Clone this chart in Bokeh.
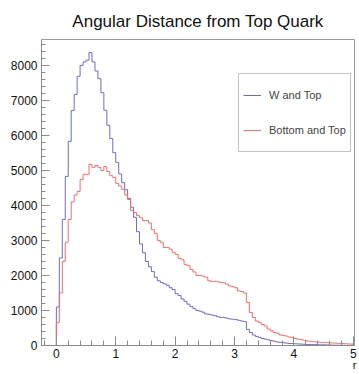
from bokeh.plotting import figure
from bokeh.models import SingleIntervalTicker, Legend, LegendItem, Range1d
from bokeh.embed import file_html
from bokeh.resources import INLINE

TITLE = "Angular Distance from Top Quark"
X_TITLE = "r"
BIN_START = 0.0
BIN_WIDTH = 0.05

w_and_top = [
    1100, 2500, 3600, 4830, 5830, 6710, 7170, 7690, 8000, 8100,
    8150, 8370, 8100, 7840, 7620, 7220, 6720, 6290, 5910, 5510,
    5230, 4900, 4650, 4450, 4200, 3950, 3660, 3250, 2900, 2650,
    2400, 2250, 2110, 1950, 1850, 1800, 1760, 1720, 1650, 1600,
    1480, 1430, 1330, 1260, 1180, 1110, 1050, 1000, 980, 950,
    900, 890, 870, 850, 820, 800, 800, 780, 760, 750,
    740, 720, 700, 680, 460, 370, 300, 260, 230, 200,
    180, 160, 140, 120, 100, 90, 80, 70, 60, 55,
    50, 45, 40, 35, 30, 30, 25, 25, 20, 20,
    18, 15, 12, 10, 8, 6, 5, 4, 3, 2,
]

bottom_and_top = [
    650, 1500, 2400, 2950, 3600, 4100, 4300, 4400, 4740, 4890,
    4890, 5170, 5090, 5140, 5090, 5000, 5110, 4970, 4850, 4800,
    4630, 4560, 4460, 4300, 4170, 3860, 3800, 3710, 3650, 3570,
    3570, 3500, 3310, 3200, 3000, 2950, 2800, 2800, 2750, 2660,
    2600, 2490, 2450, 2310, 2280, 2170, 2100, 2000, 2000, 1980,
    1950, 1850, 1830, 1830, 1820, 1800, 1790, 1750, 1700, 1680,
    1650, 1560, 1540, 1500, 1230, 940, 800, 700, 660, 600,
    560, 470, 420, 370, 350, 300, 290, 270, 240, 230,
    200, 180, 170, 150, 130, 120, 110, 100, 95, 90,
    85, 80, 75, 70, 65, 60, 55, 50, 45, 40,
]

series_names = ["W and Top", "Bottom and Top"]
series_colors = ["#6b6bd2", "#ff6a6a"]

X0, X1 = -0.25, 5.02
Y0, Y1 = 0, 8740

p = figure(width=358, height=373, output_backend="svg", toolbar_location=None,
           x_range=Range1d(X0, X1), y_range=Range1d(Y0, Y1),
           min_border_left=41, min_border_right=4, min_border_top=39,
           min_border_bottom=28, title=TITLE)

p.title.text_font = "Liberation Sans"
p.title.text_font_size = "17px"
p.title.text_font_style = "normal"
p.title.align = "center"
p.title.standoff = 17
p.title.text_color = "#111111"

p.xgrid.visible = False
p.ygrid.visible = False
p.outline_line_color = "#9a9a9a"
p.background_fill_color = "white"

for ax in (p.xaxis[0], p.yaxis[0]):
    ax.axis_line_color = "#8a8a8a"
    ax.major_tick_line_color = "#8a8a8a"
    ax.minor_tick_line_color = "#8a8a8a"
    ax.major_tick_out = 0
    ax.minor_tick_out = 0
    ax.major_label_text_font = "Liberation Sans"
    ax.major_label_text_font_size = "12px"
    ax.major_label_text_color = "#111111"

p.xaxis[0].ticker = SingleIntervalTicker(interval=1, num_minor_ticks=5)
p.xaxis[0].major_tick_in = 9
p.xaxis[0].minor_tick_in = 5
p.xaxis[0].major_label_standoff = 3
p.yaxis[0].ticker = SingleIntervalTicker(interval=1000, num_minor_ticks=5)
p.yaxis[0].major_tick_in = 8
p.yaxis[0].minor_tick_in = 4
p.yaxis[0].major_label_standoff = 4

xa = p.xaxis[0]
if hasattr(xa, "axis_label_align"):
    xa.axis_label = X_TITLE
    xa.axis_label_align = "end"
    xa.axis_label_standoff = -2
    xa.axis_label_text_font = "Liberation Sans"
    xa.axis_label_text_font_size = "11px"
    xa.axis_label_text_font_style = "normal"
    xa.axis_label_text_color = "#111111"

items = []
for name, vals, col in zip(series_names, [w_and_top, bottom_and_top], series_colors):
    edges = [BIN_START + i * BIN_WIDTH for i in range(len(vals) + 1)]
    xs = [X0] + edges
    ys = [0] + list(vals) + [0]
    r = p.step(xs, ys, mode="after", line_color=col, line_width=1)
    items.append(LegendItem(label=name, renderers=[r]))

legend = Legend(items=items, location=(197, 193), orientation="vertical",
                padding=4, spacing=1, margin=0, label_height=34, glyph_height=34,
                glyph_width=18, label_standoff=8,
                label_text_font="Liberation Sans", label_text_font_size="11px",
                border_line_color="#8a8a8a", border_line_width=1,
                background_fill_color="white", background_fill_alpha=1)
p.add_layout(legend, "center")

open("out.html", "w").write(file_html(p, INLINE))
